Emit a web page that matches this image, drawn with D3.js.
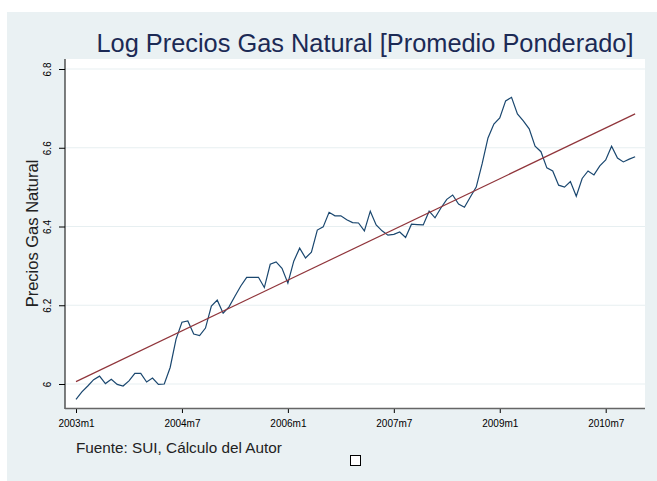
<!DOCTYPE html>
<html>
<head>
<meta charset="utf-8">
<script src="https://cdn.jsdelivr.net/npm/d3@7"></script>
<style>
  body { margin: 0; background: #fff; }
  text { font-family: "Liberation Sans", Arial, sans-serif; }
</style>
</head>
<body>
<svg id="chart" width="657" height="481"></svg>
<script>
// Monthly log price, 2003m1 .. 2010m12
var startYear = 2003;
var logPrices = [
  5.961, 5.980, 5.995, 6.011, 6.020, 6.001, 6.012, 5.999, 5.995, 6.008,
  6.027, 6.027, 6.005, 6.015, 5.999, 6.000, 6.042, 6.114, 6.157, 6.160,
  6.127, 6.123, 6.142, 6.198, 6.213, 6.180, 6.196, 6.223, 6.249, 6.271,
  6.271, 6.271, 6.245, 6.304, 6.310, 6.294, 6.256, 6.312, 6.345, 6.320,
  6.335, 6.391, 6.399, 6.436, 6.427, 6.427, 6.417, 6.410, 6.409, 6.389,
  6.439, 6.404, 6.389, 6.378, 6.380, 6.386, 6.372, 6.406, 6.405, 6.404,
  6.439, 6.422, 6.447, 6.469, 6.480, 6.457, 6.449, 6.475, 6.500, 6.559,
  6.625, 6.660, 6.676, 6.719, 6.728, 6.686, 6.668, 6.648, 6.604, 6.590,
  6.549, 6.541, 6.505, 6.500, 6.514, 6.477, 6.522, 6.541, 6.531, 6.554,
  6.569, 6.604, 6.574, 6.564, 6.571, 6.577
];
// linear fit, first and last fitted value
var fitValues = [6.006, 6.686];

var xTickMonths = [0, 18, 36, 54, 72, 90];
var xTickLabels = ["2003m1", "2004m7", "2006m1", "2007m7", "2009m1", "2010m7"];
var yTicks = [6, 6.2, 6.4, 6.6, 6.8];
var yTickLabels = ["6", "6.2", "6.4", "6.6", "6.8"];

var svg = d3.select("#chart");

// outer graph region
svg.append("rect").attr("x", 7).attr("y", 12).attr("width", 650).attr("height", 469)
    .attr("fill", "#eaf1f3");

var plot = { left: 65, right: 645, top: 59, bottom: 408 };

svg.append("rect")
    .attr("x", plot.left).attr("y", plot.top)
    .attr("width", plot.right - plot.left).attr("height", plot.bottom - plot.top)
    .attr("fill", "#fff");

var x = d3.scaleLinear().domain([0, 90]).range([76, 605.7]);
var y = d3.scaleLinear().domain([6, 6.8]).range([384, 69]);

// grid
svg.append("g").selectAll("line").data(yTicks).enter().append("line")
    .attr("x1", plot.left).attr("x2", plot.right)
    .attr("y1", function (d) { return y(d); }).attr("y2", function (d) { return y(d); })
    .attr("stroke", "#e7eff1").attr("stroke-width", 1);

// y axis
var yAxis = d3.axisLeft(y).tickValues(yTicks).tickSize(6)
    .tickFormat(function (d, i) { return yTickLabels[i]; });
var gy = svg.append("g").attr("transform", "translate(" + plot.left + ",0)").call(yAxis);
gy.select(".domain").remove();
gy.selectAll(".tick line").attr("stroke", "#000");
gy.selectAll(".tick text")
    .attr("x", 0).attr("y", 0).attr("dy", null)
    .attr("transform", "translate(-14,0) rotate(-90)")
    .attr("text-anchor", "middle")
    .attr("font-size", 10).attr("fill", "#000");
svg.append("line").attr("x1", plot.left).attr("x2", plot.left)
    .attr("y1", plot.top).attr("y2", plot.bottom + 1).attr("stroke", "#000").attr("stroke-width", 1);

// x axis
var xAxis = d3.axisBottom(x).tickValues(xTickMonths).tickSize(5)
    .tickFormat(function (d, i) { return xTickLabels[i]; });
var gx = svg.append("g").attr("transform", "translate(0," + plot.bottom + ")").call(xAxis);
gx.select(".domain").remove();
gx.selectAll(".tick line").attr("stroke", "#000");
gx.selectAll(".tick text").attr("y", 12).attr("font-size", 10).attr("fill", "#000");
svg.append("line").attr("x1", plot.left).attr("x2", plot.right)
    .attr("y1", plot.bottom + 0.5).attr("y2", plot.bottom + 0.5).attr("stroke", "#666").attr("stroke-width", 1.5);

// series
var line = d3.line()
    .x(function (d, i) { return x(i); })
    .y(function (d) { return y(d); });

svg.append("path").datum(logPrices)
    .attr("d", line)
    .attr("fill", "none").attr("stroke", "#1a476f").attr("stroke-width", 1.2);

var lastIdx = logPrices.length - 1;
svg.append("line")
    .attr("x1", x(0)).attr("y1", y(fitValues[0]))
    .attr("x2", x(lastIdx)).attr("y2", y(fitValues[1]))
    .attr("stroke", "#90353b").attr("stroke-width", 1.2);

// titles
svg.append("text").attr("x", 365).attr("y", 52).attr("text-anchor", "middle")
    .attr("font-size", 25).attr("fill", "#1c2a55")
    .attr("textLength", 537).attr("lengthAdjust", "spacingAndGlyphs")
    .text("Log Precios Gas Natural [Promedio Ponderado]");

svg.append("text").attr("transform", "translate(38," + ((plot.top + plot.bottom) / 2) + ") rotate(-90)")
    .attr("text-anchor", "middle").attr("font-size", 16.5).attr("fill", "#222")
    .text("Precios Gas Natural");

svg.append("text").attr("x", 76).attr("y", 453)
    .attr("font-size", 15.3).attr("fill", "#222")
    .text("Fuente: SUI, Cálculo del Autor");

// empty legend key
svg.append("rect").attr("x", 350.5).attr("y", 455.5).attr("width", 10).attr("height", 10)
    .attr("fill", "#fff").attr("stroke", "#000").attr("stroke-width", 1);
</script>
</body>
</html>
